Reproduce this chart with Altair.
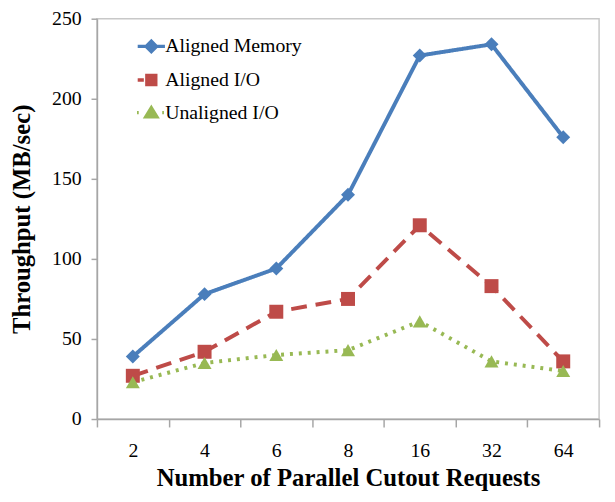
import altair as alt
import pandas as pd

categories = ["2", "4", "6", "8", "16", "32", "64"]
aligned_memory = [39, 78, 94, 140, 227, 234, 176]
aligned_io = [27, 42, 67, 75, 121, 83, 36]
unaligned_io = [23, 35, 40, 43, 61, 36, 30]
series_names = ["Aligned Memory", "Aligned I/O", "Unaligned I/O"]
colors = ["#4A7EBB", "#BE4B48", "#98B954"]

rows = []
for name, vals in zip(series_names, [aligned_memory, aligned_io, unaligned_io]):
    for c, v in zip(categories, vals):
        rows.append({"n": c, "series": name, "value": v})
df = pd.DataFrame(rows)

font = "Liberation Serif"

x_enc = alt.X("n:O", sort=categories, bandPosition=0.5,
              scale=alt.Scale(type="band", paddingInner=0, paddingOuter=0),
              axis=alt.Axis(title="Number of Parallel Cutout Requests", labelAngle=0,
                            tickBand="extent", tickSize=8, labelPadding=14, titlePadding=5))
y_enc = alt.Y("value:Q", scale=alt.Scale(domain=[0, 250]),
              axis=alt.Axis(title="Throughput (MB/sec)", values=[0, 50, 100, 150, 200, 250],
                            tickSize=6, labelPadding=10, titlePadding=17, grid=False))

color_scale = alt.Scale(domain=series_names, range=colors)
shape_scale = alt.Scale(domain=series_names, range=["diamond", "square", "triangle-up"])
# legend symbols: marker plus a short line segment in the series' line style
legend_shapes = [
    "M-2,0H2M0,-0.75L0.75,0L0,0.75L-0.75,0Z",
    "M-2,0H-1.1M-0.65,-0.65H0.65V0.65H-0.65Z",
    "M-2.1,0H-1.85M1.6,0H1.85M0,-0.7L0.8,0.6H-0.8Z",
]
legend_shape_scale = alt.Scale(domain=series_names, range=legend_shapes)

legend = alt.Legend(title=None, orient="none", legendX=45, legendY=18,
                    labelFont=font, labelFontSize=20, labelColor="black",
                    symbolSize=190, rowPadding=9, labelOffset=4,
                    symbolStrokeWidth=3.5, symbolOpacity=1)

lines = alt.Chart(df).mark_line(strokeWidth=4).encode(
    x=x_enc, y=y_enc,
    color=alt.Color("series:N", sort=series_names, scale=color_scale, legend=None),
    strokeDash=alt.StrokeDash("series:N", sort=series_names,
                              scale=alt.Scale(domain=series_names, range=[[1, 0], [16, 9], [3, 6]]),
                              legend=None),
    detail="series:N")
points = alt.Chart(df).mark_point(filled=True, opacity=1, size=200).encode(
    x=x_enc, y=y_enc,
    color=alt.Color("series:N", sort=series_names, scale=color_scale, legend=None),
    shape=alt.Shape("series:N", sort=series_names, scale=shape_scale, legend=None))
legend_layer = alt.Chart(df).mark_point(filled=False, opacity=0, size=190).encode(
    x=x_enc, y=y_enc,
    color=alt.Color("series:N", sort=series_names, scale=color_scale, legend=legend),
    fill=alt.Fill("series:N", sort=series_names, scale=color_scale, legend=legend),
    shape=alt.Shape("series:N", sort=series_names, scale=legend_shape_scale, legend=legend))

chart = alt.layer(lines, points, legend_layer).resolve_scale(
    shape="independent", color="independent", fill="independent"
).properties(
    width=508, height=405,
    autosize=alt.AutoSizeParams(type="none"),
    padding={"left": 90, "top": 8, "right": 8, "bottom": 72}
).configure_view(stroke="#C8C8C8", strokeWidth=1.5).configure_axis(
    labelFont=font, titleFont=font, labelFontSize=20, titleFontSize=25, titleFontWeight="bold",
    labelColor="black", titleColor="black", domainColor="#A6A6A6", tickColor="#A6A6A6",
    domainWidth=1.5, tickWidth=1.5
)

chart.save("out.html", embed_options={"renderer": "svg", "actions": False})
